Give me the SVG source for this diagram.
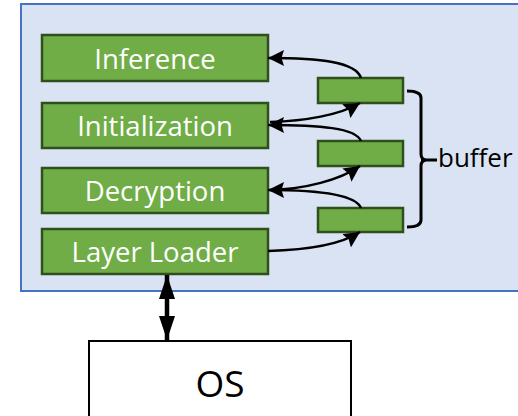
<svg xmlns="http://www.w3.org/2000/svg" width="518" height="416" viewBox="0 0 518 416">
  <defs>
    <style>
      .stage { fill: #70AD47; stroke: #2F4F1C; stroke-width: 2.5; }
      .stage-label { font-family: "Open Sans", "Liberation Sans", sans-serif; font-size: 27.5px; fill: #ffffff; text-anchor: middle; }
      .buf { fill: #70AD47; stroke: #2F4F1C; stroke-width: 2.5; }
      .link { fill: none; stroke: #000000; stroke-width: 2.5; marker-end: url(#head); }
      .dark-label { font-family: "Open Sans", "Liberation Sans", sans-serif; fill: #000000; }
    </style>
    <marker id="head" markerUnits="userSpaceOnUse" markerWidth="18" markerHeight="16" refX="16" refY="8" orient="auto">
      <path d="M0,0 L16,8 L0,16 L2.5,8 Z" fill="#000000"/>
    </marker>
    <marker id="bighead" markerUnits="userSpaceOnUse" markerWidth="26" markerHeight="18" refX="24" refY="9" orient="auto-start-reverse">
      <path d="M0,1 L24,9 L0,17 Z" fill="#000000"/>
    </marker>
  </defs>

  <!-- enclave container -->
  <rect id="container" x="21" y="4" width="520" height="287" fill="#DAE3F3" stroke="#4472C4" stroke-width="2"/>

  <!-- pipeline stages -->
  <g id="inference">
    <rect class="stage" x="42" y="35" width="226" height="46"/>
    <text class="stage-label" x="155" y="68.5">Inference</text>
  </g>
  <g id="initialization">
    <rect class="stage" x="42" y="103" width="226" height="45"/>
    <text class="stage-label" x="155" y="136">Initialization</text>
  </g>
  <g id="decryption">
    <rect class="stage" x="42" y="168" width="226" height="45"/>
    <text class="stage-label" x="155" y="201">Decryption</text>
  </g>
  <g id="layer-loader">
    <rect class="stage" x="42" y="229" width="226" height="45"/>
    <text class="stage-label" x="155" y="261.5">Layer Loader</text>
  </g>

  <!-- buffers -->
  <g id="buffer-1"><rect class="buf" x="318" y="78" width="85" height="25"/></g>
  <g id="buffer-2"><rect class="buf" x="318" y="141" width="85" height="25"/></g>
  <g id="buffer-3"><rect class="buf" x="318" y="208" width="85" height="24"/></g>

  <!-- brace grouping the buffers -->
  <g id="buffer-brace">
    <path d="M407,91 Q421,91 421,98 V154 Q421,160 427,160 Q421,160 421,166 V220 Q421,227 407,227 M421,160 H437" fill="none" stroke="#000000" stroke-width="3"/>
    <text class="dark-label" x="438" y="167" font-size="26">buffer</text>
  </g>

  <!-- OS -->
  <g id="os">
    <rect x="89" y="341" width="262" height="90" fill="#ffffff" stroke="#000000" stroke-width="2"/>
    <text class="dark-label" x="220" y="397" font-size="37" text-anchor="middle">OS</text>
  </g>

  <!-- connectors -->
  <g id="connectors">
    <path class="link" d="M361,78 C356,62 320,58 268,58"/>
    <path class="link" d="M270,122 C305,121 340,115 360,103"/>
    <path class="link" d="M361,141 C356,128 320,125 268,125"/>
    <path class="link" d="M270,190 C305,189 340,180 360,166"/>
    <path class="link" d="M361,208 C356,195 320,190 268,190"/>
    <path class="link" d="M268,251 C305,250 340,245 360,232"/>
    <path d="M167,275 V340" fill="none" stroke="#000000" stroke-width="4.5" marker-start="url(#bighead)" marker-end="url(#bighead)"/>
  </g>
</svg>
